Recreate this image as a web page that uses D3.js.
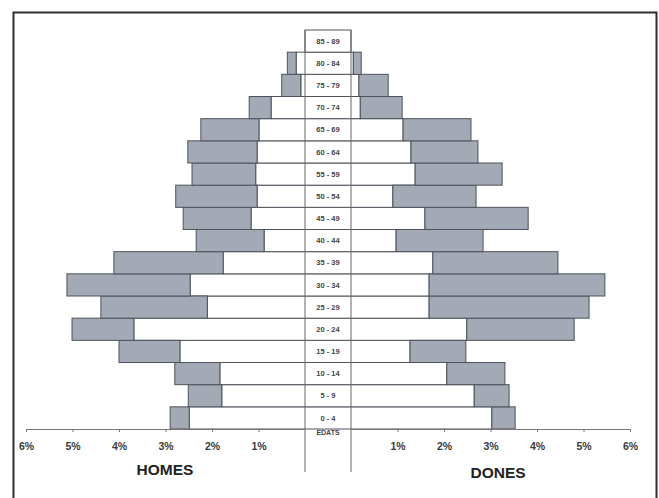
<!DOCTYPE html>
<html>
<head>
<meta charset="utf-8">
<script src="https://cdn.jsdelivr.net/npm/d3@7"></script>
<style>
  body { margin: 0; background: #fff; }
  svg { display: block; font-family: 'Liberation Sans', Arial, sans-serif; }
</style>
</head>
<body>
<div class="chart"></div>
<script>
// age groups, bottom to top
const ages = ['0 - 4', '5 - 9', '10 - 14', '15 - 19', '20 - 24', '25 - 29', '30 - 34',
  '35 - 39', '40 - 44', '45 - 49', '50 - 54', '55 - 59', '60 - 64', '65 - 69',
  '70 - 74', '75 - 79', '80 - 84', '85 - 89'];

// % of population: white (inner) part and full bar (gray ends there)
const homesInner = [2.49, 1.79, 1.83, 2.69, 3.68, 2.10, 2.47, 1.76, 0.88, 1.16, 1.03, 1.06, 1.03, 0.99, 0.73, 0.09, 0.19, 0];
const homesTotal = [2.90, 2.51, 2.80, 4.00, 5.01, 4.39, 5.12, 4.11, 2.34, 2.62, 2.78, 2.43, 2.52, 2.24, 1.20, 0.50, 0.38, 0];
const donesInner = [3.03, 2.65, 2.06, 1.27, 2.49, 1.68, 1.68, 1.76, 0.97, 1.59, 0.90, 1.38, 1.29, 1.12, 0.20, 0.17, 0.05, 0];
const donesTotal = [3.53, 3.40, 3.31, 2.47, 4.80, 5.12, 5.46, 4.45, 2.84, 3.81, 2.69, 3.25, 2.73, 2.58, 1.10, 0.80, 0.22, 0];

const tickValues = [1, 2, 3, 4, 5, 6];

const width = 659;
const height = 498;
const gray = '#a3aab5';
const edge = '#4d525c';

const svg = d3.select('div.chart')
  .append('svg')
  .attr('width', width)
  .attr('height', height);

// scanned page frame
svg.append('rect')
  .attr('x', 13.5).attr('y', 12.5)
  .attr('width', 643).attr('height', 500)
  .attr('fill', '#fff')
  .attr('stroke', '#2e2e33')
  .attr('stroke-width', 2);

const xL = d3.scaleLinear().domain([0, 6]).range([305, 26]);
const xR = d3.scaleLinear().domain([0, 6]).range([351, 630]);
const y = d3.scaleBand().domain(ages.slice().reverse()).range([30, 429]);

const rows = ages.map((age, i) => ({
  age,
  hIn: homesInner[i], hTot: homesTotal[i],
  dIn: donesInner[i], dTot: donesTotal[i],
}));

// white part spans across the label column
svg.selectAll('.inner')
  .data(rows)
  .enter()
  .append('rect')
  .attr('class', 'inner')
  .attr('x', (d) => xL(d.hIn))
  .attr('y', (d) => y(d.age))
  .attr('width', (d) => xR(d.dIn) - xL(d.hIn))
  .attr('height', y.bandwidth())
  .attr('fill', '#fff')
  .attr('stroke', edge)
  .attr('stroke-width', 1);

svg.selectAll('.homes')
  .data(rows.filter((d) => d.hTot > d.hIn))
  .enter()
  .append('rect')
  .attr('class', 'homes')
  .attr('x', (d) => xL(d.hTot))
  .attr('y', (d) => y(d.age))
  .attr('width', (d) => xL(d.hIn) - xL(d.hTot))
  .attr('height', y.bandwidth())
  .attr('fill', gray)
  .attr('stroke', edge)
  .attr('stroke-width', 1);

svg.selectAll('.dones')
  .data(rows.filter((d) => d.dTot > d.dIn))
  .enter()
  .append('rect')
  .attr('class', 'dones')
  .attr('x', (d) => xR(d.dIn))
  .attr('y', (d) => y(d.age))
  .attr('width', (d) => xR(d.dTot) - xR(d.dIn))
  .attr('height', y.bandwidth())
  .attr('fill', gray)
  .attr('stroke', edge)
  .attr('stroke-width', 1);

// label column
[xL(0), xR(0)].forEach((x) => {
  svg.append('line')
    .attr('x1', x).attr('x2', x)
    .attr('y1', 30).attr('y2', 472)
    .attr('stroke', '#666')
    .attr('stroke-width', 1);
});

svg.selectAll('.age')
  .data(rows)
  .enter()
  .append('text')
  .attr('class', 'age')
  .attr('x', (xL(0) + xR(0)) / 2)
  .attr('y', (d) => y(d.age) + y.bandwidth() / 2)
  .attr('dy', '0.35em')
  .attr('text-anchor', 'middle')
  .attr('font-size', 7.5)
  .attr('font-weight', 'bold')
  .attr('fill', '#444')
  .text((d) => d.age);

svg.append('text')
  .attr('x', (xL(0) + xR(0)) / 2)
  .attr('y', 433)
  .attr('dy', '0.35em')
  .attr('text-anchor', 'middle')
  .attr('font-size', 7)
  .attr('font-weight', 'bold')
  .attr('fill', '#444')
  .text('EDATS');

// axes
const drawAxis = (scale) => {
  const g = svg.append('g')
    .attr('transform', 'translate(0,429)')
    .call(d3.axisBottom(scale)
      .tickValues(tickValues)
      .tickSize(3)
      .tickSizeOuter(0)
      .tickPadding(11)
      .tickFormat((d) => d + '%'));
  g.select('.domain').attr('stroke', '#777');
  g.selectAll('.tick line').attr('stroke', '#777');
  g.selectAll('.tick text')
    .attr('font-size', 10.5)
    .attr('font-weight', 'bold')
    .attr('fill', '#3a3a3a')
    .attr('font-family', "'Liberation Sans', Arial, sans-serif");
};
drawAxis(xL);
drawAxis(xR);

svg.append('text')
  .attr('x', 165).attr('y', 475)
  .attr('text-anchor', 'middle')
  .attr('font-size', 15.5)
  .attr('font-weight', 'bold')
  .attr('fill', '#222')
  .text('HOMES');

svg.append('text')
  .attr('x', 498).attr('y', 478)
  .attr('text-anchor', 'middle')
  .attr('font-size', 15.5)
  .attr('font-weight', 'bold')
  .attr('fill', '#222')
  .text('DONES');
</script>
</body>
</html>
